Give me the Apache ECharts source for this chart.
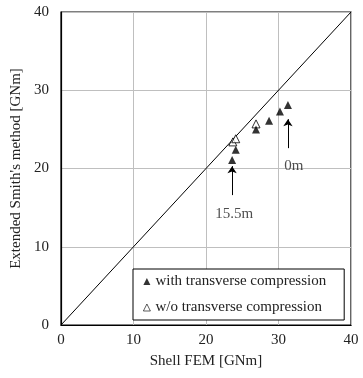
<!DOCTYPE html>
<html>
<head>
<meta charset="utf-8">
<script src="https://cdn.jsdelivr.net/npm/echarts@6/dist/echarts.min.js"></script>
<style>
html,body{margin:0;padding:0;background:#fff;}
#chart{width:363px;height:378px;}
</style>
</head>
<body>
<div id="chart"></div>
<script>
// Data
var withCompression = [
  [23.6, 21.1], [24.1, 22.4], [26.9, 25.0], [28.7, 26.1], [30.2, 27.3], [31.3, 28.1]
];
var withoutCompression = [
  [23.7, 23.4], [24.1, 23.8], [26.9, 25.7]
];
var diagonal = [[0, 0], [40, 40]];
var arrows = [
  [[31.3, 22.6], [31.3, 26.3]],
  [[23.6, 16.6], [23.6, 20.3]]
];
var annotations = [
  {name: '0m', value: [32.1, 20.3]},
  {name: '15.5m', value: [23.9, 14.2]}
];
var xTicks = [0, 10, 20, 30, 40];
var yTicks = [0, 10, 20, 30, 40];

var font = 'Liberation Serif';
var fs = 15;
var chart = echarts.init(document.getElementById('chart'));
chart.setOption({
  animation: false,
  backgroundColor: '#fff',
  grid: {left: 61, right: 12, top: 12, bottom: 53, show: true, borderColor: '#000', borderWidth: 1.2},
  xAxis: {
    type: 'value', min: xTicks[0], max: xTicks[xTicks.length - 1], interval: 10,
    name: 'Shell FEM [GNm]', nameLocation: 'middle', nameGap: 29,
    nameTextStyle: {fontFamily: font, fontSize: fs, color: '#222'},
    axisLine: {show: true, lineStyle: {color: '#000', width: 1.2}},
    axisTick: {show: false},
    axisLabel: {fontFamily: font, fontSize: fs, color: '#222', margin: 8},
    splitLine: {show: true, lineStyle: {color: '#bfbfbf', width: 1}}
  },
  yAxis: {
    type: 'value', min: yTicks[0], max: yTicks[yTicks.length - 1], interval: 10,
    name: "Extended Smith's method [GNm]", nameLocation: 'middle', nameGap: 25,
    nameTextStyle: {fontFamily: font, fontSize: fs, color: '#222'},
    axisLine: {show: true, lineStyle: {color: '#000', width: 1.2}},
    axisTick: {show: false},
    axisLabel: {fontFamily: font, fontSize: fs, color: '#222', margin: 12},
    splitLine: {show: true, lineStyle: {color: '#bfbfbf', width: 1}}
  },
  legend: {
    orient: 'vertical', left: 133, top: 269,
    padding: [5, 18, 5, 10],
    itemWidth: 7, itemHeight: 7, itemGap: 11, itemTextGap: 5,
    backgroundColor: '#fff', borderColor: '#000', borderWidth: 1,
    textStyle: {fontFamily: font, fontSize: fs, color: '#222', lineHeight: 15},
    data: [
      {name: 'with transverse compression', icon: 'triangle'},
      {name: 'w/o transverse compression', icon: 'triangle', itemStyle: {borderWidth: 0.8}}
    ]
  },
  series: [
    {
      type: 'line', data: diagonal, showSymbol: false, silent: true,
      lineStyle: {color: '#000', width: 1}, z: 1
    },
    {
      name: 'w/o transverse compression', type: 'scatter', data: withoutCompression,
      symbol: 'triangle', symbolSize: 8,
      itemStyle: {color: '#fff', borderColor: '#000', borderWidth: 1}, z: 3
    },
    {
      name: 'with transverse compression', type: 'scatter', data: withCompression,
      symbol: 'triangle', symbolSize: 8,
      itemStyle: {color: '#000'}, z: 4
    },
    {
      type: 'lines', coordinateSystem: 'cartesian2d', silent: true,
      data: arrows.map(function (a) { return {coords: a}; }),
      symbol: ['none', 'arrow'], symbolSize: [0, 7],
      lineStyle: {color: '#000', width: 1, opacity: 1}, z: 5
    },
    {
      type: 'scatter', data: annotations, symbolSize: 0, silent: true,
      label: {show: true, position: 'inside', formatter: '{b}', fontFamily: font, fontSize: fs, color: '#222'},
      z: 6
    }
  ]
});
</script>
</body>
</html>
